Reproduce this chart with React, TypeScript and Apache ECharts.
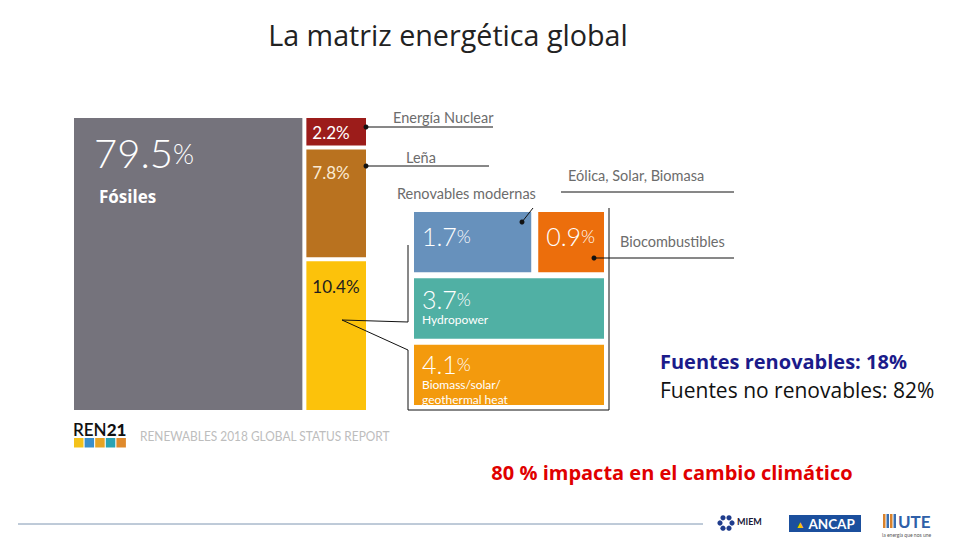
import React, { useEffect, useRef } from "react";
import * as echarts from "echarts";

const mainNames = ["Fósiles", "Energía Nuclear", "Leña", "Renovables modernas"];
const mainValues = [79.5, 2.2, 7.8, 10.4];
const mainColors = ["#75737c", "#9c1c1a", "#b9721f", "#fcc20b"];
const mainTextColors = ["#ffffff", "#ffffff", "#f9ead2", "#1e1e1e"];

const modernNames = ["Eólica, Solar, Biomasa", "Biocombustibles", "Hydropower", "Biomass/solar/\ngeothermal heat"];
const modernValues = [1.7, 0.9, 3.7, 4.1];
const modernRows = [0, 0, 1, 2];
const modernColors = ["#6791bc", "#ec6e0c", "#50b0a4", "#f39a0d"];
const rowCategories = ["fila1", "fila2", "fila3"];

const titleText = "La matriz energética global";
const summaryLines = ["Fuentes renovables: 18%", "Fuentes no renovables: 82%"];
const climateNote = "80 % impacta en el cambio climático";
const sourceText = "RENEWABLES 2018 GLOBAL STATUS REPORT";

const FONT = "Lato, 'Open Sans', sans-serif";
const SLIDE_FONT = "'Open Sans', Lato, sans-serif";

function buildMainCells() {
  const total = mainValues.reduce((a, b) => a + b, 0);
  const xSplit = (mainValues[0] / total) * 100;
  const restTotal = mainValues.slice(1).reduce((a, b) => a + b, 0);
  let acc = 0;
  return mainValues.map((v, i) => {
    if (i === 0) return [0, xSplit, 0, 100, v, i];
    const y0 = (acc / restTotal) * 100;
    acc += v;
    const y1 = (acc / restTotal) * 100;
    return [xSplit, 100, y0, y1, v, i];
  });
}

function buildModernCells() {
  const rowSums: number[] = [];
  modernValues.forEach((v, i) => {
    rowSums[modernRows[i]] = (rowSums[modernRows[i]] || 0) + v;
  });
  const rowAcc: number[] = rowSums.map(() => 0);
  return modernValues.map((v, i) => {
    const r = modernRows[i];
    const x0 = rowAcc[r] / rowSums[r];
    rowAcc[r] += v;
    const x1 = rowAcc[r] / rowSums[r];
    return [x0, x1, r, v, i];
  });
}

export default function App() {
  const ref = useRef<HTMLDivElement>(null);
  useEffect(() => {
    if (!ref.current) return;
    const chart = echarts.init(ref.current, undefined, { renderer: "svg" });
    const mainCells = buildMainCells();
    const modernCells = buildModernCells();

    const gray = "#6c6c6c";
    const callText = (text: string, x: number, y: number) => ({
      type: "text",
      x,
      y,
      style: { text, fill: gray, font: `14.5px ${FONT}`, textVerticalAlign: "middle", verticalAlign: "middle" },
    });
    const line = (x1: number, y1: number, x2: number, y2: number) => ({
      type: "line",
      shape: { x1, y1, x2, y2 },
      style: { stroke: "#111", lineWidth: 1 },
    });
    const dot = (cx: number, cy: number) => ({
      type: "circle",
      shape: { cx, cy, r: 2.5 },
      style: { fill: "#111" },
    });

    const renColors = ["#f4c21a", "#3a8fcc", "#e8a424", "#2aa3b4", "#df8a2c"];

    const graphicEls: any[] = [
      {
        type: "text",
        x: 448,
        y: 34,
        style: { text: titleText, fill: "#222", font: `28.7px ${SLIDE_FONT}`, textAlign: "center", align: "center", textVerticalAlign: "middle", verticalAlign: "middle" },
      },
      // callouts
      callText(mainNames[1], 393, 117),
      line(366, 127, 493, 127),
      dot(366, 127),
      callText(mainNames[2], 406, 157),
      line(366, 166, 489, 166),
      dot(366, 166),
      callText(mainNames[3], 397, 193),
      line(533, 208, 522, 222),
      dot(522, 222),
      callText(modernNames[0], 568, 175),
      line(561, 192, 734, 192),
      callText(modernNames[1], 620, 241),
      line(594, 258, 734, 258),
      dot(594, 258),
      {
        type: "polyline",
        shape: { points: [[609, 208], [609, 410], [408, 410], [408, 350]] },
        style: { stroke: "#111", lineWidth: 1, fill: null },
      },
      line(408, 245, 408, 322),
      line(342, 320, 408, 322),
      line(342, 320, 408, 350),
      // summary texts
      {
        type: "text",
        x: 660,
        y: 361,
        style: { text: summaryLines[0], fill: "#1b1b8a", font: `bold 20px ${SLIDE_FONT}`, textVerticalAlign: "middle", verticalAlign: "middle" },
      },
      {
        type: "text",
        x: 660,
        y: 390,
        style: { text: summaryLines[1], fill: "#111", font: `21px ${SLIDE_FONT}`, textVerticalAlign: "middle", verticalAlign: "middle" },
      },
      {
        type: "text",
        x: 672,
        y: 472,
        style: { text: climateNote, fill: "#e00000", font: `bold 20px ${SLIDE_FONT}`, textAlign: "center", align: "center", textVerticalAlign: "middle", verticalAlign: "middle" },
      },
      // REN21 logo
      {
        type: "text",
        x: 73,
        y: 429,
        style: {
          text: "{a|REN}{b|21}",
          verticalAlign: "middle",
          textVerticalAlign: "middle",
          rich: {
            a: { fontSize: 17, fontWeight: 600, fontFamily: FONT, fill: "#111" },
            b: { fontSize: 17, fontWeight: 900, fontFamily: FONT, fill: "#111" },
          },
        },
      },
      ...renColors.map((c, i) => ({
        type: "rect",
        shape: { x: 74 + i * 10.6, y: 438, width: 9.5, height: 9.5 },
        style: { fill: c },
      })),
      {
        type: "text",
        x: 140,
        y: 436,
        scaleX: 0.85,
        style: { text: sourceText, fill: "#bdbdbd", font: `14px ${FONT}`, textVerticalAlign: "middle", verticalAlign: "middle" },
      },
      // footer
      {
        type: "line",
        shape: { x1: 18, y1: 524, x2: 703, y2: 524 },
        style: { stroke: "#7f96b2", lineWidth: 1 },
      },
      // MIEM logo
      ...[0, 1, 2, 3, 4, 5].map((k) => ({
        type: "circle",
        shape: { cx: 726 + 6 * Math.cos((k * Math.PI) / 3), cy: 523 + 6 * Math.sin((k * Math.PI) / 3), r: 2.6 },
        style: { fill: "#1f3c8c" },
      })),
      {
        type: "text",
        x: 737,
        y: 521,
        style: { text: "MIEM", fill: "#1a1a3a", font: `bold 9px ${FONT}`, textVerticalAlign: "middle", verticalAlign: "middle" },
      },
      // ANCAP logo
      {
        type: "rect",
        shape: { x: 789, y: 515, width: 72, height: 17 },
        style: { fill: "#1b4f9d" },
      },
      {
        type: "text",
        x: 825,
        y: 524,
        style: {
          text: "{t|▲} {w|ANCAP}",
          align: "center",
          textAlign: "center",
          verticalAlign: "middle",
          textVerticalAlign: "middle",
          rich: {
            t: { fontSize: 10, fill: "#f4c400", fontFamily: FONT },
            w: { fontSize: 13.5, fontWeight: "bold", fill: "#ffffff", fontFamily: FONT },
          },
        },
      },
      // UTE logo
      ...[0, 1, 2, 3].map((k) => ({
        type: "rect",
        shape: { x: 883 + k * 3.5, y: 514, width: 2.5, height: 14 },
        style: { fill: k % 2 === 0 ? "#d9822b" : "#3a6fb0" },
      })),
      {
        type: "text",
        x: 898,
        y: 521,
        style: { text: "UTE", fill: "#2f5fa8", font: `bold 17px ${FONT}`, textVerticalAlign: "middle", verticalAlign: "middle" },
      },
      {
        type: "text",
        x: 882,
        y: 535,
        style: { text: "la energía que nos une", fill: "#555", font: `5px ${FONT}`, textVerticalAlign: "middle", verticalAlign: "middle" },
      },
    ].map((el) => ({ ...el, z: 100, silent: true }));

    chart.setOption({
      animation: false,
      grid: [
        { left: 74, top: 118, width: 292, height: 292 },
        { left: 414, top: 212, width: 190, height: 199 },
      ],
      xAxis: [
        { gridIndex: 0, type: "value", min: 0, max: 100, show: false },
        { gridIndex: 1, type: "value", min: 0, max: 1, show: false },
      ],
      yAxis: [
        { gridIndex: 0, type: "value", min: 0, max: 100, inverse: true, show: false },
        { gridIndex: 1, type: "category", data: rowCategories, inverse: true, show: false },
      ],
      series: [
        {
          type: "custom",
          xAxisIndex: 0,
          yAxisIndex: 0,
          silent: true,
          z: 2,
          data: mainCells,
          renderItem: (params: any, api: any) => {
            const x0 = api.value(0), x1 = api.value(1), y0 = api.value(2), y1 = api.value(3);
            const v = api.value(4);
            const idx = api.value(5);
            const p0 = api.coord([x0, y0]);
            const p1 = api.coord([x1, y1]);
            let w = p1[0] - p0[0];
            let h = p1[1] - p0[1];
            if (x1 < 99.99) w -= 4;
            if (y1 < 99.99) h -= 4;
            const children: any[] = [
              { type: "rect", shape: { x: p0[0], y: p0[1], width: w, height: h }, style: { fill: mainColors[idx] } },
            ];
            const label = v.toFixed(1);
            if (idx === 0) {
              children.push({
                type: "text",
                x: p0[0] + 20,
                y: p0[1] + 35,
                style: {
                  text: `{n|${label}}{p|%}`,
                  verticalAlign: "middle",
                  rich: {
                    n: { fontSize: 40, fontFamily: FONT, fontWeight: 300, fill: "#ffffff" },
                    p: { fontSize: 27, fontFamily: FONT, fontWeight: 300, fill: "#ffffff" },
                  },
                },
              });
              children.push({
                type: "text",
                x: p0[0] + 25,
                y: p0[1] + 78,
                style: { text: mainNames[0], fill: "#ffffff", fontSize: 17, fontWeight: "bold", fontFamily: SLIDE_FONT, verticalAlign: "middle" },
              });
            } else {
              const dy = idx === 1 ? 14 : idx === 2 ? 23 : 25;
              children.push({
                type: "text",
                x: p0[0] + 6,
                y: p0[1] + dy,
                style: { text: label + "%", fill: mainTextColors[idx], fontSize: 17, fontFamily: FONT, verticalAlign: "middle" },
              });
            }
            return { type: "group", children };
          },
        },
        {
          type: "custom",
          xAxisIndex: 1,
          yAxisIndex: 1,
          silent: true,
          z: 2,
          data: modernCells,
          renderItem: (params: any, api: any) => {
            const x0 = api.value(0), x1 = api.value(1), row = api.value(2);
            const v = api.value(3);
            const idx = api.value(4);
            const band = api.size([0, 1])[1];
            const pc = api.coord([x0, row]);
            const px1 = api.coord([x1, row])[0];
            const top = pc[1] - band / 2;
            const w = px1 - pc[0] - (x1 < 0.999 ? 7 : 0);
            const h = band - 6;
            const children: any[] = [
              { type: "rect", shape: { x: pc[0], y: top, width: w, height: h }, style: { fill: modernColors[idx] } },
            ];
            const numY = row === 0 ? 24 : row === 1 ? 21 : 19;
            children.push({
              type: "text",
              x: pc[0] + 8,
              y: top + numY,
              style: {
                text: `{n|${v.toFixed(1)}}{p|%}`,
                verticalAlign: "middle",
                rich: {
                  n: { fontSize: 25, fontFamily: FONT, fontWeight: 300, fill: "#ffffff" },
                  p: { fontSize: 18, fontFamily: FONT, fontWeight: 300, fill: "#ffffff" },
                },
              },
            });
            if (row > 0) {
              children.push({
                type: "text",
                x: pc[0] + 8,
                y: top + numY + 13,
                style: { text: modernNames[idx], fill: "#ffffff", fontSize: 12, lineHeight: 15, fontFamily: FONT, verticalAlign: "top" },
              });
            }
            return { type: "group", children };
          },
        },
      ],
      graphic: graphicEls,
    });
    return () => chart.dispose();
  }, []);
  return <div ref={ref} style={{ position: "absolute", left: 0, top: 0, width: 960, height: 540 }} />;
}
